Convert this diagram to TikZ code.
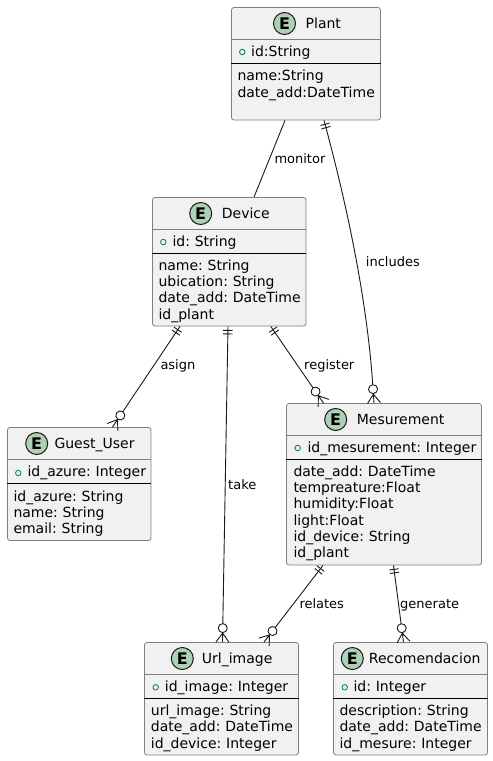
\documentclass[tikz,border=0pt]{standalone}
\usepackage{fontspec}
\setmainfont[WordSpace=0.75]{DejaVu Sans}
\usetikzlibrary{arrows.meta}
\definecolor{boxfill}{HTML}{F1F1F1}
\definecolor{boxline}{HTML}{7F7F7F}
\definecolor{markfill}{HTML}{ADD1B2}
\definecolor{keygreen}{HTML}{038048}
% two marks at the "one" end of a relation
\pgfdeclarearrow{
  name=onebar,
  setup code={\pgfarrowssettipend{0pt}\pgfarrowssetlineend{0pt}\pgfarrowssetbackend{-8pt}\pgfarrowssetvisualbackend{0pt}},
  drawing code={
    \pgfpathmoveto{\pgfqpoint{-4pt}{-4.7pt}}\pgfpathlineto{\pgfqpoint{-4pt}{4.7pt}}
    \pgfpathmoveto{\pgfqpoint{-7.5pt}{-4.7pt}}\pgfpathlineto{\pgfqpoint{-7.5pt}{4.7pt}}
    \pgfusepathqstroke}
}
% circle and crow's foot at the "many" end
\pgfdeclarearrow{
  name=crowo,
  setup code={\pgfarrowssettipend{0pt}\pgfarrowssetlineend{-18.5pt}\pgfarrowssetbackend{-18.5pt}\pgfarrowssetvisualbackend{-18.5pt}},
  drawing code={
    \pgfpathcircle{\pgfqpoint{-14pt}{0pt}}{4.5pt}
    \pgfpathmoveto{\pgfqpoint{-9.5pt}{0pt}}\pgfpathlineto{\pgfqpoint{0pt}{0pt}}
    \pgfpathmoveto{\pgfqpoint{0pt}{-6.5pt}}\pgfpathlineto{\pgfqpoint{-9pt}{0pt}}\pgfpathlineto{\pgfqpoint{0pt}{6.5pt}}
    \pgfusepathqstroke}
}
\tikzset{
  entitybox/.style={draw=boxline,fill=boxfill,line width=0.8pt,rounded corners=2.5pt,inner sep=0pt},
  headline/.style={draw=boxline,line width=0.8pt},
  keyline/.style={draw=black,line width=0.9pt},
  entitymark/.style={circle,draw=black!90,fill=markfill,line width=1pt,minimum size=22pt,inner sep=0pt,font=\fontsize{16}{18}\bfseries\selectfont},
  keymark/.style={circle,draw=keygreen,line width=0.8pt,minimum size=5.5pt,inner sep=0pt},
  titletext/.style={anchor=base west,inner sep=0pt,font=\fontsize{14}{16}\selectfont},
  attrtext/.style={anchor=base west,inner sep=0pt,font=\fontsize{14}{16}\selectfont},
  relation/.style={draw=black!90,line width=0.9pt},
  onemany/.style={relation,{onebar}-{crowo}},
  rellabel/.style={anchor=base west,inner sep=0pt,font=\fontsize{13}{15}\selectfont},
}
\begin{document}
\begin{tikzpicture}[x=1pt,y=-1pt]
    \useasboundingbox (0,0) rectangle (493,761);

    % Plant
    \node[entitybox,minimum width=149pt,minimum height=112.5pt] (plant) at (306,63.75) {};
    \draw[headline] (plant.west |- 0,39.5) -- (plant.east |- 0,39.5);
    \draw[keyline] (plant.west |- 0,63.5) -- (plant.east |- 0,63.5);
    \node[entitymark] (plantmark) at (284.5,23.5) {E};
    \node[titletext] (plantname) at (305.5,28.5) {Plant};
    \node[keymark] (plantkey) at (242.3,52) {};
    \node[attrtext] (plantid) at (251,56.5) {id:String};
    \node[attrtext] (plantnm) at (237.3,80.5) {name:String};
    \node[attrtext] (plantdt) at (237.3,97) {date\_add:DateTime};

    % Device
    \node[entitybox,minimum width=153.5pt,minimum height=128.5pt] (device) at (229.25,261.75) {};
    \draw[headline] (device.west |- 0,229.5) -- (device.east |- 0,229.5);
    \draw[keyline] (device.west |- 0,253) -- (device.east |- 0,253);
    \node[entitymark] (devicemark) at (200.7,213.5) {E};
    \node[titletext] (devicename) at (221.7,218.5) {Device};
    \node[keymark] (devicekey) at (163.3,242) {};
    \node[attrtext] (deviceid) at (172.3,246.5) {id: String};
    \node[attrtext] (devicenm) at (158.3,270) {name: String};
    \node[attrtext] (deviceub) at (158.3,286.5) {ubication: String};
    \node[attrtext] (devicedt) at (158.3,302.5) {date\_add: DateTime};
    \node[attrtext] (devicepl) at (158.3,319) {id\_plant};

    % Guest_User
    \node[entitybox,minimum width=143.5pt,minimum height=113pt] (guest) at (79.25,484) {};
    \draw[headline] (guest.west |- 0,459.5) -- (guest.east |- 0,459.5);
    \draw[keyline] (guest.west |- 0,483) -- (guest.east |- 0,483);
    \node[entitymark] (guestmark) at (36.7,443.5) {E};
    \node[titletext] (guestname) at (54.3,448.5) {Guest\_User};
    \node[keymark] (guestkey) at (18.3,473) {};
    \node[attrtext] (guestid) at (27.3,476.5) {id\_azure: Integer};
    \node[attrtext] (guestaz) at (13.3,501) {id\_azure: String};
    \node[attrtext] (guestnm) at (13.3,517) {name: String};
    \node[attrtext] (guestem) at (13.3,533.5) {email: String};

    % Mesurement
    \node[entitybox,minimum width=195pt,minimum height=161.5pt] (mesure) at (384,484.25) {};
    \draw[headline] (mesure.west |- 0,435.5) -- (mesure.east |- 0,435.5);
    \draw[keyline] (mesure.west |- 0,459) -- (mesure.east |- 0,459);
    \node[entitymark] (mesuremark) at (335.7,419.5) {E};
    \node[titletext] (mesurename) at (356.7,424.5) {Mesurement};
    \node[keymark] (mesurekey) at (297.7,448) {};
    \node[attrtext] (mesureid) at (307.3,452.5) {id\_mesurement: Integer};
    \node[attrtext] (mesuredt) at (293.3,476) {date\_add: DateTime};
    \node[attrtext] (mesuretp) at (293.3,492.5) {tempreature:Float};
    \node[attrtext] (mesurehu) at (293.3,508.5) {humidity:Float};
    \node[attrtext] (mesureli) at (293.3,525) {light:Float};
    \node[attrtext] (mesuredv) at (293.3,541) {id\_device: String};
    \node[attrtext] (mesurepl) at (293.3,557.5) {id\_plant};

    % Url_image
    \node[entitybox,minimum width=154pt,minimum height=112.5pt] (urlimage) at (221.5,698.75) {};
    \draw[headline] (urlimage.west |- 0,674.5) -- (urlimage.east |- 0,674.5);
    \draw[keyline] (urlimage.west |- 0,698) -- (urlimage.east |- 0,698);
    \node[entitymark] (urlmark) at (182.3,658.5) {E};
    \node[titletext] (urlname) at (201.7,663.5) {Url\_image};
    \node[keymark] (urlkey) at (155.7,687.3) {};
    \node[attrtext] (urlid) at (164.7,691.5) {id\_image: Integer};
    \node[attrtext] (urlur) at (150.7,715) {url\_image: String};
    \node[attrtext] (urldt) at (150.7,731.5) {date\_add: DateTime};
    \node[attrtext] (urldv) at (150.7,748) {id\_device: Integer};

    % Recomendacion
    \node[entitybox,minimum width=154pt,minimum height=112.5pt] (recom) at (410.5,698.75) {};
    \draw[headline] (recom.west |- 0,674.5) -- (recom.east |- 0,674.5);
    \draw[keyline] (recom.west |- 0,698) -- (recom.east |- 0,698);
    \node[entitymark] (recommark) at (352.3,658.5) {E};
    \node[titletext] (recomname) at (368.7,663.5) {Recomendacion};
    \node[keymark] (recomkey) at (344.7,687.3) {};
    \node[attrtext] (recomid) at (353.3,691.5) {id: Integer};
    \node[attrtext] (recomde) at (339.3,715) {description: String};
    \node[attrtext] (recomdt) at (339.3,731.5) {date\_add: DateTime};
    \node[attrtext] (recomms) at (339.3,748) {id\_mesure: Integer};

    % relations
    \draw[relation] ([xshift=-21pt]plant.south) -- ([xshift=24.75pt]device.north);
    \draw[onemany] ([xshift=18pt]plant.south) .. controls (347,205) and (367,300) .. ([xshift=-10pt]mesure.north);
    \draw[onemany] ([xshift=-49.25pt]device.south) -- ([xshift=33.25pt]guest.north);
    \draw[onemany] ([xshift=-1.25pt]device.south) -- ([xshift=1pt]urlimage.north);
    \draw[onemany] ([xshift=41.5pt]device.south) -- ([xshift=-60.5pt]mesure.north);
    \draw[onemany] ([xshift=-61pt]mesure.south) -- ([xshift=42.5pt]urlimage.north);
    \draw[onemany] ([xshift=9.5pt]mesure.south) -- ([xshift=-7pt]recom.north);

    % relation labels
    \node[rellabel] (monitorlabel) at (274.3,163.5) {monitor};
    \node[rellabel] (includeslabel) at (365.7,266) {includes};
    \node[rellabel] (asignlabel) at (160.3,369) {asign};
    \node[rellabel] (takelabel) at (228,489) {take};
    \node[rellabel] (registerlabel) at (304,369) {register};
    \node[rellabel] (relateslabel) at (299.3,608) {relates};
    \node[rellabel] (generatelabel) at (400,608) {generate};
\end{tikzpicture}
\end{document}
